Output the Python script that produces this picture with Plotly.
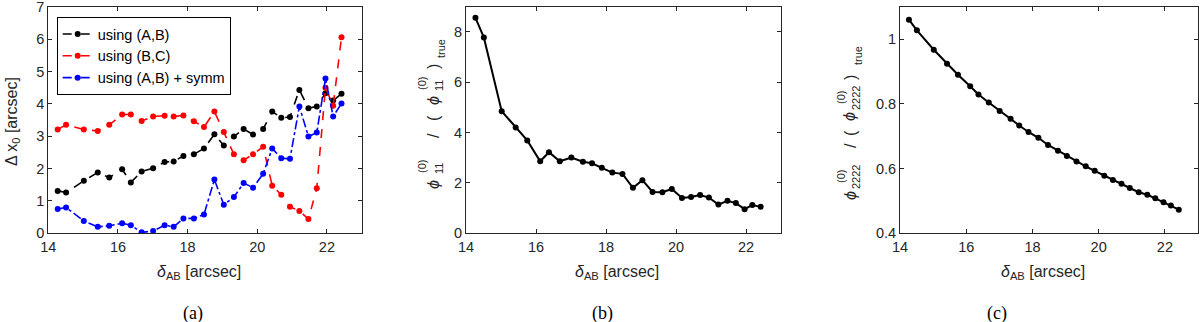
import plotly.graph_objects as go

# separation between images A and B [arcsec]
delta_ab = [14.27, 14.51, 15.02, 15.42, 15.75, 16.12, 16.37, 16.68, 17.01, 17.34,
            17.60, 17.88, 18.18, 18.47, 18.77, 19.04, 19.33, 19.61, 19.88, 20.17,
            20.43, 20.69, 20.94, 21.21, 21.47, 21.71, 21.96, 22.18, 22.42]

# panel (a): position error
dx_ab = [1.31, 1.26, 1.62, 1.88, 1.72, 1.98, 1.57, 1.91, 2.01, 2.20,
         2.22, 2.39, 2.44, 2.62, 3.06, 2.71, 2.99, 3.22, 3.05, 3.22,
         3.76, 3.57, 3.59, 4.43, 3.86, 3.92, 4.33, 4.10, 4.31]
dx_bc = [3.21, 3.35, 3.21, 3.16, 3.35, 3.67, 3.67, 3.47, 3.61, 3.63,
         3.61, 3.64, 3.46, 3.28, 3.76, 3.13, 2.44, 2.26, 2.44, 2.67,
         1.47, 1.19, 0.82, 0.69, 0.44, 1.39, 4.50, 3.94, 6.06]
dx_symm = [0.75, 0.80, 0.38, 0.20, 0.23, 0.31, 0.25, 0.03, 0.07, 0.25,
           0.20, 0.46, 0.46, 0.58, 1.66, 0.88, 1.12, 1.55, 1.41, 1.84,
           2.62, 2.32, 2.30, 3.92, 2.99, 3.11, 4.78, 3.61, 4.01]

# panel (b) and (c): ratios to true values
phi11_ratio = [8.56, 7.78, 4.85, 4.20, 3.69, 2.86, 3.22, 2.86, 3.01, 2.84,
               2.78, 2.60, 2.41, 2.36, 1.81, 2.11, 1.64, 1.63, 1.76, 1.40,
               1.44, 1.52, 1.42, 1.14, 1.29, 1.20, 0.96, 1.12, 1.05]
phi2222_ratio = [1.060, 1.027, 0.967, 0.924, 0.890, 0.854, 0.829, 0.804, 0.778, 0.754,
                 0.733, 0.713, 0.695, 0.673, 0.655, 0.639, 0.622, 0.607, 0.593, 0.578,
                 0.565, 0.553, 0.540, 0.527, 0.519, 0.508, 0.496, 0.486, 0.473]

W, H = 1200, 322
AX = '#262626'
FONT = 'Liberation Sans, Arial, sans-serif'
SERIF = 'Liberation Serif, Times New Roman, serif'

fig = go.Figure()

series_a = [(dx_ab, 'black', 'dash', 'using (A,B)'),
            (dx_bc, '#ff0000', 'dash', 'using (B,C)'),
            (dx_symm, '#0000ff', 'dashdot', 'using (A,B) + symm')]
for y, c, d, name in series_a:
    fig.add_trace(go.Scatter(x=delta_ab, y=y, mode='lines+markers', name=name,
                             line=dict(color=c, dash=d, width=1.6),
                             marker=dict(color=c, size=6), xaxis='x', yaxis='y'))

fig.add_trace(go.Scatter(x=delta_ab, y=phi11_ratio, mode='lines+markers', showlegend=False,
                         line=dict(color='black', width=2), marker=dict(color='black', size=6),
                         xaxis='x2', yaxis='y2'))
fig.add_trace(go.Scatter(x=delta_ab, y=phi2222_ratio, mode='lines+markers', showlegend=False,
                         line=dict(color='black', width=2), marker=dict(color='black', size=6),
                         xaxis='x3', yaxis='y3'))

ydom = [1 - 233.3 / H, 1 - 6.7 / H]
xdoms = [[48.3 / W, 361.7 / W], [466 / W, 781 / W], [900 / W, 1198 / W]]
yranges = [[0, 7], [0, 9], [0.4, 1.1]]
ytickvals = [list(range(0, 8)), [0, 2, 4, 6, 8], [0.4, 0.6, 0.8, 1.0]]
yticktext = [None, None, ['0.4', '0.6', '0.8', '1']]

axis_common = dict(showline=True, linecolor=AX, linewidth=1, mirror='allticks',
                   ticks='inside', ticklen=4, tickcolor=AX, showgrid=False, zeroline=False,
                   automargin=False, ticklabeloverflow='allow',
                   tickfont=dict(family=FONT, size=14.5, color=AX))
layout = dict(width=W, height=H, margin=dict(l=0, r=0, t=0, b=0),
              paper_bgcolor='white', plot_bgcolor='white',
              legend=dict(x=56.7 / W, y=1 - 17 / H, xanchor='left', yanchor='top',
                          bgcolor='white', bordercolor='black', borderwidth=1,
                          font=dict(family=FONT, size=14.5, color='black'),
                          tracegroupgap=0, itemwidth=30))
for i in range(3):
    sfx = '' if i == 0 else str(i + 1)
    layout['xaxis' + sfx] = dict(domain=xdoms[i], range=[14, 23], anchor='y' + sfx,
                                 tickvals=[14, 16, 18, 20, 22], **axis_common)
    ya = dict(domain=ydom, range=yranges[i], anchor='x' + sfx,
              tickvals=ytickvals[i], **axis_common)
    if yticktext[i]:
        ya['ticktext'] = yticktext[i]
    layout['yaxis' + sfx] = ya
fig.update_layout(**layout)

ann = []


def txt(s, px, py, size=16, family=FONT, angle=0, color=AX):
    ann.append(dict(x=px / W, y=1 - py / H, xref='paper', yref='paper', text=s,
                    showarrow=False, textangle=angle, xanchor='center', yanchor='middle',
                    font=dict(family=family, size=size, color=color)))


# x titles and panel labels
for i, (lab, lx) in enumerate(zip(['(a)', '(b)', '(c)'], [193, 602, 997])):
    cx = (xdoms[i][0] + xdoms[i][1]) / 2 * W - 6
    ann.append(dict(x=cx / W, y=1 - 261 / H, xref='paper', yref='paper',
                    text='<i>δ</i><sub>AB</sub> [arcsec]',
                    showarrow=False, xanchor='center', yanchor='top',
                    font=dict(family=FONT, size=16, color=AX)))
    txt(lab, lx, 313, size=18, family=SERIF, color='black')

# y title (a)
txt('Δ x<sub>0</sub> [arcsec]', 13, 122, angle=-90)

# y titles (b), (c): rotated pieces so sub/superscripts stack like TeX
phi = '<i>ϕ</i>'
pieces_b = [(phi, 433, 185, 16), ('(0)', 422, 167, 11), ('11', 439, 169, 11),
            ('/', 433, 136, 16), ('(', 433, 118, 16),
            (phi, 433, 101, 16), ('(0)', 422, 84, 11), ('11', 439, 86, 11),
            (')', 433, 67, 16), ('true', 441, 49, 11)]
pieces_c = [(phi, 850, 196, 16), ('(0)', 841, 177, 11), ('2222', 856, 177, 11),
            ('/', 850, 146, 16), ('(', 850, 133, 16),
            (phi, 850, 117, 16), ('(0)', 841, 98, 11), ('2222', 856, 98, 11),
            (')', 850, 78, 16), ('true', 858, 56, 11)]
for s, px, py, sz in pieces_b + pieces_c:
    txt(s, px, py, size=sz, angle=-90)

fig.update_layout(annotations=ann)

# page body has a default 8px margin; drop it so the figure sits at the window origin
fig.write_html("out.html", config={'displayModeBar': False},
               post_script="document.body.style.margin='0';document.body.style.overflow='hidden';")
